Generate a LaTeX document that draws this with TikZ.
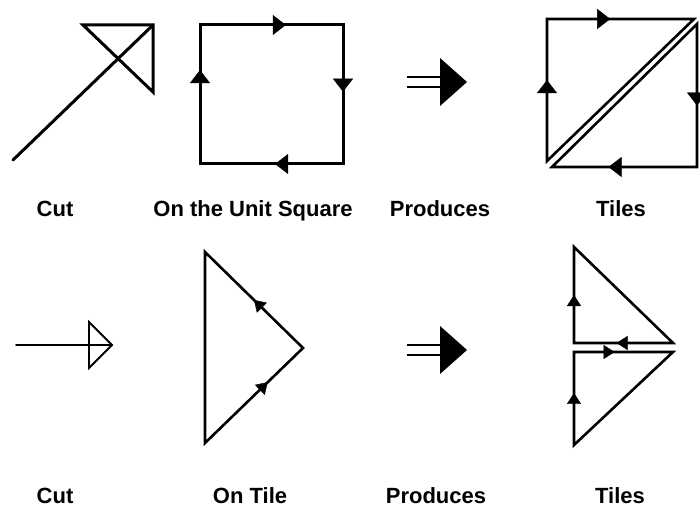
\documentclass[tikz,border=0pt]{standalone}
\usepackage{fontspec}
\setmainfont{Liberation Sans}
\usetikzlibrary{arrows.meta,decorations.markings}
\tikzset{
  thick line/.style={line width=3pt, line join=miter, line cap=round},
  mid line/.style={line width=2.6pt, line join=miter, line cap=round},
  thin line/.style={line width=1.8pt, line join=miter, line cap=round},
  shaft/.style={line width=2.6pt},
  bigtip/.style={postaction={decorate}, decoration={markings,
      mark=at position #1 with {\arrow{Triangle[length=13pt,width=20pt]}}}},
  smalltip/.style={postaction={decorate}, decoration={markings,
      mark=at position #1 with {\arrow{Triangle[length=11pt,width=14pt]}}}},
  lbl/.style={anchor=base, inner sep=0pt, font=\fontsize{22pt}{24pt}\selectfont\bfseries}
}
\begin{document}
\begin{tikzpicture}[x=1pt,y=-1pt]
\useasboundingbox (0,0) rectangle (700,510);
\fill[white] (0,0) rectangle (700,510);

% ---------- Row 1: Cut ----------
\coordinate (a1) at (13,160);
\coordinate (a2) at (153,25);
\coordinate (t1) at (83,25);
\coordinate (t3) at (153,92);
\draw[thick line] (a1) -- (a2);
\draw[thick line] (t1) -- (a2) -- (t3) -- cycle;

% ---------- Row 1: Unit square ----------
\coordinate (s1) at (200,25);
\coordinate (s2) at (343,25);
\coordinate (s3) at (343,164);
\coordinate (s4) at (200,164);
\draw[thick line] (s1) -- (s2) -- (s3) -- (s4) -- cycle;
\path[bigtip=0.6] (s1) -- (s2);
\path[bigtip=0.48] (s2) -- (s3);
\path[bigtip=0.475] (s3) -- (s4);
\path[bigtip=0.676] (s4) -- (s1);

% ---------- Row 1: Produces ----------
\coordinate (p1a) at (407,82);
\coordinate (p1b) at (441,82);
\coordinate (p1top) at (440,58);
\coordinate (p1bot) at (440,106);
\coordinate (p1tip) at (467,82);
\draw[shaft] ([yshift=-5pt]p1a) -- ([yshift=-5pt]p1b);
\draw[shaft] ([yshift=5pt]p1a) -- ([yshift=5pt]p1b);
\fill (p1top) -- (p1tip) -- (p1bot) -- cycle;

% ---------- Row 1: Tiles ----------
\coordinate (u1) at (547,19);
\coordinate (u2) at (694,19);
\coordinate (u3) at (547,161);
\coordinate (l1) at (552,167);
\coordinate (l2) at (697,24);
\coordinate (l3) at (697,167);
\draw[mid line] (u1) -- (u2) -- (u3) -- cycle;
\draw[mid line] (l1) -- (l2) -- (l3) -- cycle;
\path[bigtip=0.43] (u1) -- (u2);
\path[bigtip=0.57] (u3) -- (u1);
\path[bigtip=0.57] (l2) -- (l3);
\path[bigtip=0.61] (l3) -- (l1);

% ---------- Row 2: Cut ----------
\coordinate (c1) at (16,345);
\coordinate (c2) at (112,345);
\coordinate (c3) at (89,322);
\coordinate (c4) at (89,368);
\draw[thin line] (c1) -- (c2);
\draw[thin line] (c3) -- (c2) -- (c4) -- cycle;

% ---------- Row 2: On Tile ----------
\coordinate (o1) at (205,252);
\coordinate (o2) at (303,348);
\coordinate (o3) at (205,443);
\draw[mid line] (o1) -- (o2) -- (o3) -- cycle;
\path[smalltip=0.5] (o2) -- (o1);
\path[smalltip=0.64] (o3) -- (o2);

% ---------- Row 2: Produces ----------
\coordinate (p2a) at (407,350);
\coordinate (p2b) at (441,350);
\coordinate (p2top) at (440,326);
\coordinate (p2bot) at (440,374);
\coordinate (p2tip) at (467,350);
\draw[shaft] ([yshift=-5pt]p2a) -- ([yshift=-5pt]p2b);
\draw[shaft] ([yshift=5pt]p2a) -- ([yshift=5pt]p2b);
\fill (p2top) -- (p2tip) -- (p2bot) -- cycle;

% ---------- Row 2: Tiles ----------
\coordinate (q1) at (574,247);
\coordinate (q2) at (673,343);
\coordinate (q3) at (574,343);
\coordinate (r1) at (574,352);
\coordinate (r2) at (673,352);
\coordinate (r3) at (574,445);
\draw[mid line] (q1) -- (q2) -- (q3) -- cycle;
\draw[mid line] (r1) -- (r2) -- (r3) -- cycle;
\path[smalltip=0.5] (q3) -- (q1);
\path[smalltip=0.57] (q2) -- (q3);
\path[smalltip=0.41] (r1) -- (r2);
\path[smalltip=0.56] (r3) -- (r1);

% ---------- Labels ----------
\node[lbl] (l-cut1) at (55,217) {Cut};
\node[lbl] (l-sq) at (253,217) {On the Unit Square};
\node[lbl] (l-prod1) at (440,217) {Produces};
\node[lbl] (l-tiles1) at (621,217) {Tiles};
\node[lbl] (l-cut2) at (55,503) {Cut};
\node[lbl] (l-tile) at (250,503) {On Tile};
\node[lbl] (l-prod2) at (436,503) {Produces};
\node[lbl] (l-tiles2) at (620,503) {Tiles};
\end{tikzpicture}
\end{document}
